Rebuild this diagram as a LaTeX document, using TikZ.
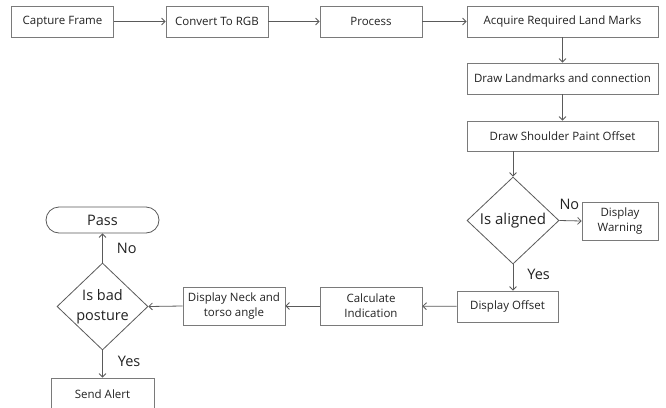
\documentclass[tikz,border=0pt]{standalone}
\usepackage{fontspec}
\setmainfont{Open Sans}
\usetikzlibrary{shapes.geometric,shapes.misc,arrows.meta}
\definecolor{boxgray}{HTML}{7A7A7A}
\definecolor{textgray}{HTML}{222222}
\definecolor{linegray}{HTML}{5A5A5A}
\tikzset{
  stepbox/.style={draw=boxgray, line width=0.8pt, minimum width=102pt, minimum height=31pt,
    inner sep=1pt, align=center, text=textgray, font=\fontsize{11.5}{15}\selectfont},
  decision/.style={draw=linegray, line width=0.8pt, diamond, minimum width=92pt, minimum height=87pt,
    inner sep=0pt, align=center, text=textgray, font=\fontsize{14.5}{19.5}\selectfont},
  terminal/.style={draw=linegray, line width=0.8pt, rounded rectangle, minimum width=113pt, minimum height=26pt,
    inner sep=0pt, text=textgray, font=\fontsize{14.5}{17}\selectfont},
  conn/.style={draw=linegray, line width=0.8pt, -{Straight Barb[length=3.5pt,width=7pt]}},
  lbl/.style={text=textgray, font=\fontsize{14.5}{17}\selectfont, inner sep=0pt},
}
\begin{document}
\begin{tikzpicture}[x=1pt,y=-1pt]
\clip (0,0) rectangle (666,407);
\fill[white] (0,0) rectangle (666,407);
\node[stepbox] (cap) at (62.5,21.5) {Capture Frame};
\node[stepbox] (rgb) at (217,21.5) {Convert To RGB};
\node[stepbox] (proc) at (371,21.5) {Process};
\node[stepbox, minimum width=191pt] (acq) at (562.5,21.5) {Acquire Required Land Marks};
\node[stepbox, minimum width=191pt] (lm) at (562.5,78.5) {Draw Landmarks and connection};
\node[stepbox, minimum width=191pt, minimum height=30pt] (sh) at (562.5,136) {Draw Shoulder Paint Offset};
\node[decision, font=\fontsize{15}{19.5}\selectfont] (al) at (513,220.5) {Is aligned};
\node[stepbox, minimum width=76pt, minimum height=38pt] (warn) at (620,221) {Display\\Warning};
\node[stepbox, minimum width=101pt] (off) at (507.5,306.5) {Display Offset};
\node[stepbox, minimum height=38pt] (calc) at (371,306) {Calculate\\Indication};
\node[stepbox, minimum height=38pt] (neck) at (234,306) {Display Neck and\\torso angle};
\node[decision, minimum width=91pt] (bad) at (102.5,306.5) {Is bad\\posture};
\node[terminal] (pass) at (102.5,220) {Pass};
\node[stepbox, minimum width=103pt, minimum height=32pt] (alert) at (102.5,394) {Send Alert};

\draw[conn] (cap) -- (rgb);
\draw[conn] (rgb) -- (proc);
\draw[conn] (proc) -- (acq);
\draw[conn] (acq) -- (lm);
\draw[conn] (lm) -- (sh);
\draw[conn] (sh.south -| al.north) -- (al.north);
\draw[conn] (al.east) -- (warn.west) node[lbl, pos=0.45, above=11pt] {No};
\draw[conn] (al.south) -- (al.south |- off.north) node[lbl, pos=0.4, right=14pt] {Yes};
\draw[conn] (off) -- (calc);
\draw[conn] (calc) -- (neck);
\draw[conn] (neck.west) -- (bad.east);
\draw[conn] (bad.north) -- (pass.south) node[lbl, pos=0.5, right=14pt] {No};
\draw[conn] (bad.south) -- (alert.north) node[lbl, pos=0.4, right=15pt] {Yes};
\end{tikzpicture}
\end{document}
